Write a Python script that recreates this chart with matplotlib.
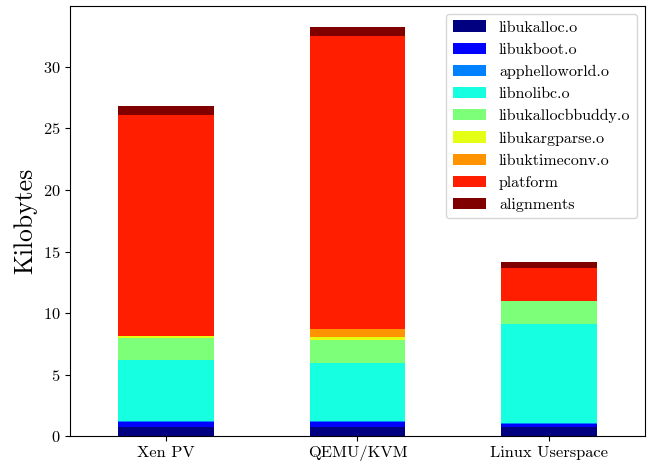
import pandas as pd
import matplotlib
matplotlib.use("Agg")
import matplotlib.pyplot as plt

plt.rcParams['font.family'] = 'serif'
plt.rcParams['font.serif'] = ['cmr10', 'DejaVu Serif']
plt.rcParams['mathtext.fontset'] = 'cm'
plt.rcParams['axes.formatter.use_mathtext'] = True
plt.rcParams['font.size'] = 11.8

platforms = ["Xen PV", "QEMU/KVM", "Linux Userspace"]

libukalloc = [0.73, 0.73, 0.73]
libukboot = [0.41, 0.41, 0.22]
apphelloworld = [0.10, 0.10, 0.10]
libnolibc = [4.92, 4.68, 8.03]
libukallocbbuddy = [1.79, 1.87, 1.89]
libukargparse = [0.18, 0.24, 0.0]
libuktimeconv = [0.0, 0.65, 0.0]
platform = [17.93, 23.84, 2.68]
alignments = [0.78, 0.76, 0.49]

df = pd.DataFrame({
    "libukalloc.o": libukalloc,
    "libukboot.o": libukboot,
    "apphelloworld.o": apphelloworld,
    "libnolibc.o": libnolibc,
    "libukallocbbuddy.o": libukallocbbuddy,
    "libukargparse.o": libukargparse,
    "libuktimeconv.o": libuktimeconv,
    "platform": platform,
    "alignments": alignments,
}, index=platforms)

fig, ax = plt.subplots(figsize=(6.5, 4.63), dpi=100)
df.plot(kind="bar", stacked=True, colormap="jet", ax=ax, width=0.5)

ax.set_ylabel("Kilobytes", fontsize=18.5)
ax.set_xticklabels(platforms, rotation=0)
ax.legend(loc="upper right", fontsize=11.5, handlelength=2.1)

plt.subplots_adjust(left=0.108, right=0.992, top=0.987, bottom=0.058)
plt.savefig("out.png")
